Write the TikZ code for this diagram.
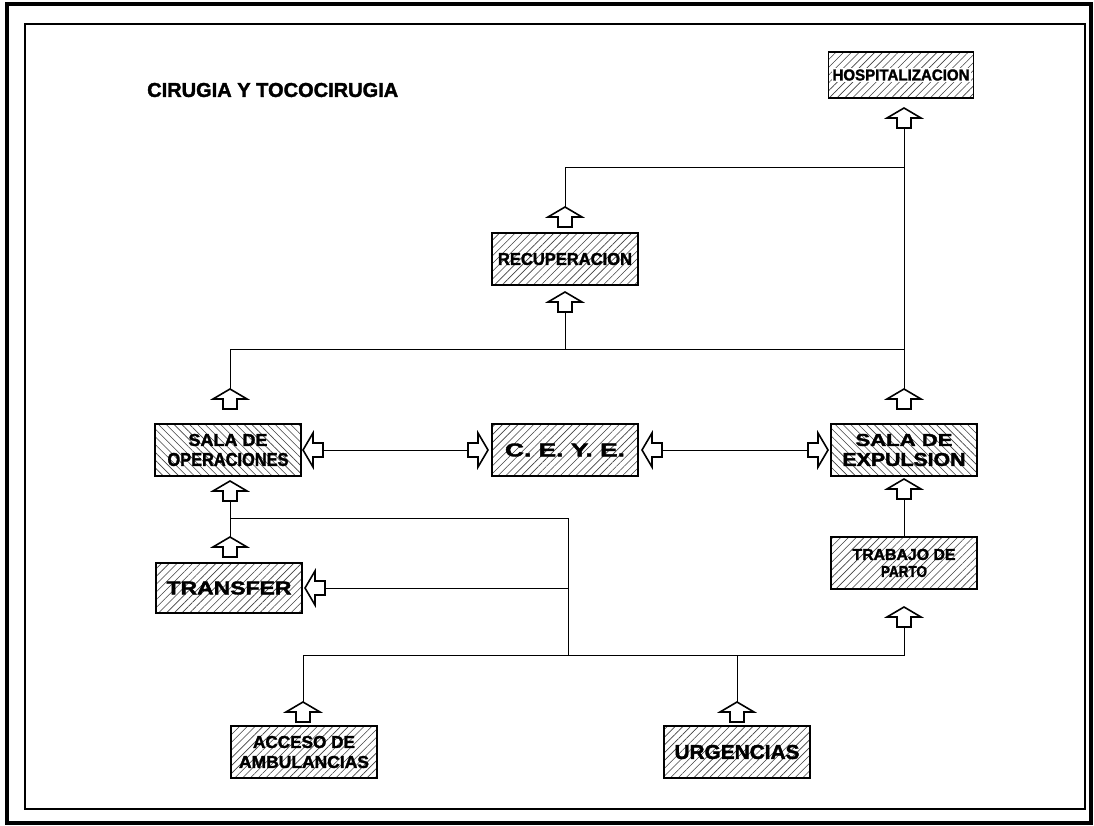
\documentclass[tikz,border=0pt]{standalone}
\usepackage{fontspec}
\setmainfont{Liberation Sans}[BoldFeatures={FakeBold=1.8}]
\usepackage{graphicx}
\usetikzlibrary{patterns.meta}
\newcommand{\fitlbl}[3]{\resizebox{#1pt}{#2pt}{\bfseries #3}}
\setlength{\fboxsep}{1pt}
\tikzset{
  conn/.style={line width=0.9pt},
  arrowshape/.style={draw, fill=white, line width=1.6pt, line join=miter},
  hbox/.style={draw, line width=1.8pt,
    pattern={Lines[angle=45,distance=5.5pt,line width=0.6pt]}, pattern color=black!75,
    minimum width=146pt, minimum height=52pt, inner sep=0pt, align=center,
    font=\fontsize{12}{20}\selectfont},
  hboxb/.style={hbox, pattern={Lines[angle=-45,distance=5.5pt,line width=0.6pt]}},
  uparrow/.pic={
    \draw[arrowshape] (0,-10) -- (17,0) -- (7,0) -- (7,10) -- (-7,10) -- (-7,0) -- (-17,0) -- cycle;
    \coordinate (-tip) at (0,-10); \coordinate (-tail) at (0,10);},
  leftarrow/.pic={
    \draw[arrowshape] (-10,0) -- (0,-17) -- (0,-7) -- (10,-7) -- (10,7) -- (0,7) -- (0,17) -- cycle;
    \coordinate (-tip) at (-10,0); \coordinate (-tail) at (10,0);},
  rightarrow/.pic={
    \draw[arrowshape] (10,0) -- (0,-17) -- (0,-7) -- (-10,-7) -- (-10,7) -- (0,7) -- (0,17) -- cycle;
    \coordinate (-tip) at (10,0); \coordinate (-tail) at (-10,0);},
}
\begin{document}
\begin{tikzpicture}[x=1pt,y=-1pt]
\useasboundingbox (0,0) rectangle (1094,826);
% frames
\draw[line width=3.5pt] (7,4) rectangle (1091,823);
\draw[line width=1.6pt] (25,24) rectangle (1085,809);
% title
\node[anchor=west, inner sep=0pt] (title) at (147,90) {\fitlbl{251}{14}{CIRUGIA Y TOCOCIRUGIA}};
% boxes
\node[hbox, minimum width=145pt, minimum height=46pt] (hosp) at (901,75) {\colorbox{white}{\fitlbl{137}{11}{HOSPITALIZACION}}};
\node[hbox] (recup) at (565,259) {\fitlbl{134}{12}{RECUPERACION}};
\node[hboxb] (ops) at (228,450) {\fitlbl{79}{12}{SALA DE}\\\fitlbl{121}{13}{OPERACIONES}};
\node[hbox] (ceye) at (565,450) {\fitlbl{120}{13}{C. E. Y. E.}};
\node[hboxb] (exp) at (904,450) {\fitlbl{97}{12}{SALA DE}\\\fitlbl{123}{13}{EXPULSION}};
\node[hbox, minimum height=50pt] (transfer) at (229,588) {\fitlbl{125}{13}{TRANSFER}};
\node[hbox] (trab) at (904,563) {\fitlbl{103}{11}{TRABAJO DE}\\[-3pt]\fitlbl{46}{11}{PARTO}};
\node[hbox] (acc) at (304,752) {\fitlbl{102}{12}{ACCESO DE}\\\fitlbl{130}{12}{AMBULANCIAS}};
\node[hbox] (urg) at (737,752) {\fitlbl{125}{14}{URGENCIAS}};
% block arrows
\pic (aHosp) at (904,118) {uparrow};
\pic (aRecU) at (565,217) {uparrow};
\pic (aRecD) at (565,302) {uparrow};
\pic (aOpsU) at (230,399) {uparrow};
\pic (aOpsD) at (230,491) {uparrow};
\pic (aTrU) at (230,547) {uparrow};
\pic (aExpU) at (904,399) {uparrow};
\pic (aExpD) at (904,489) {uparrow};
\pic (aTrab) at (904,617) {uparrow};
\pic (aAcc) at (303,712) {uparrow};
\pic (aUrg) at (737,712) {uparrow};
\pic (aOpsR) at (313,450) {leftarrow};
\pic (aCeyeL) at (478,450) {rightarrow};
\pic (aCeyeR) at (652,450) {leftarrow};
\pic (aExpL) at (818,450) {rightarrow};
\pic (aTrL) at (315,588) {leftarrow};
% junctions
\coordinate (jT) at (904,167);
\coordinate (jM) at (904,349);
\coordinate (jL) at (568,518);
\coordinate (jB) at (568,655);
\coordinate (jBR) at (904,655);
% connectors
\draw[conn] (aHosp-tail) -- (aExpU-tip);
\draw[conn] (aRecU-tip) |- (jT);
\draw[conn] (aOpsU-tip) |- (jM);
\draw[conn] (aRecD-tail) -- (aRecD-tail |- jM);
\draw[conn] (aOpsD-tail) -- (aTrU-tip);
\draw[conn] (aOpsD-tail |- jL) -- (jL) -- (jB);
\draw[conn] (aTrL-tail) -- (aTrL-tail -| jL);
\draw[conn] (aAcc-tip) |- (jBR) -- (aTrab-tail);
\draw[conn] (aUrg-tip) -- (aUrg-tip |- jBR);
\draw[conn] (aExpD-tail) -- (trab.north);
\draw[conn] (aOpsR-tail) -- (aCeyeL-tail);
\draw[conn] (aCeyeR-tail) -- (aExpL-tail);
\end{tikzpicture}
\end{document}
